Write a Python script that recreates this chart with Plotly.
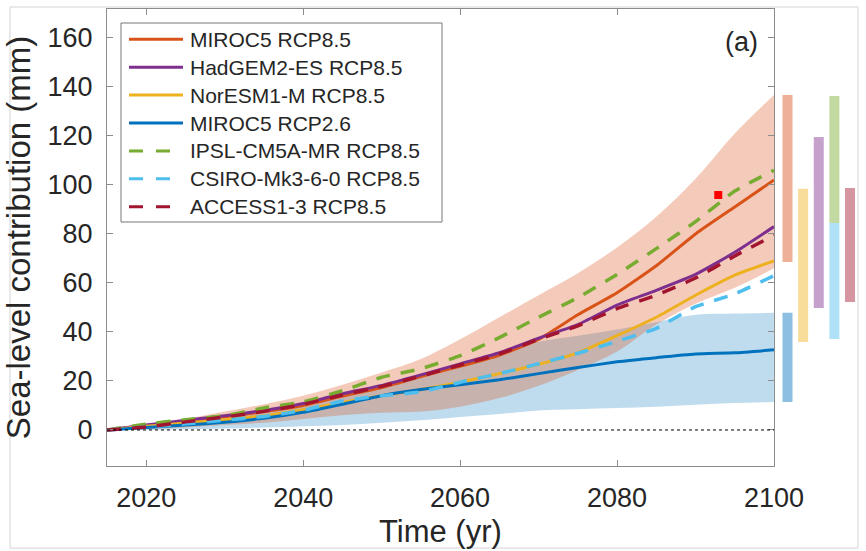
import plotly.graph_objects as go

# ---------------- data ----------------
years = [2015, 2020, 2025, 2030, 2035, 2040, 2045, 2050, 2055, 2060,
         2065, 2070, 2075, 2080, 2085, 2090, 2095, 2100]

miroc5_85 = [0, 1.8, 3.6, 5.4, 7.5, 10, 13.8, 17.3, 21.8, 26, 30.5, 37, 47, 56, 67, 80, 91, 102]
hadgem2_85 = [0, 2, 4, 5.8, 8, 10.8, 14.8, 18.2, 22.5, 27, 31.5, 37.5, 43, 51, 57, 63.5, 72.5, 83]
noresm1_85 = [0, 1.5, 2.8, 4.2, 5.8, 8.3, 11.2, 14, 16.5, 19.5, 23, 26.8, 31.5, 38.5, 46, 55, 63.2, 69]
miroc5_26 = [0, 1, 2, 3.2, 4.8, 7.2, 10.5, 14, 16.5, 18.5, 20.5, 23, 25.5, 27.8, 29.5, 31, 31.5, 32.7]
ipsl_85 = [0, 2.4, 4.2, 5.8, 9, 11.5, 16, 21.5, 25, 30.3, 37.7, 46, 54, 63.5, 74, 85, 97.5, 106]
csiro_85 = [0, 1.2, 2.5, 4, 5.5, 8, 11.8, 14, 15.5, 19.5, 23, 27, 31.3, 36.2, 41.5, 50.3, 55.5, 63]
access_85 = [0, 1.2, 3.3, 5.3, 7.6, 10.5, 14.3, 17.8, 22, 26.5, 31, 37, 42.5, 49.5, 55, 62, 71, 79.5]

# uncertainty envelopes
miroc5_85_low = [0, 0.5, 1, 2, 3, 4.5, 6, 7, 7.5, 9.5, 13, 18, 24.5, 32, 43, 51.5, 58, 66]
miroc5_85_high = [0, 2, 4.5, 7.5, 10.5, 14, 18.5, 23.5, 29, 37, 46, 55, 64, 74.5, 87, 102.5, 121, 136.7]
miroc5_26_low = [0, 0, 0.3, 0.6, 1, 1.5, 2, 3, 4, 5.3, 6.5, 8, 8.5, 9, 9.5, 10.3, 11, 11.4]
miroc5_26_high = [0, 1.5, 3, 5, 7.5, 10.5, 14.5, 18.5, 21.5, 25.5, 31, 36, 38.5, 41, 44, 47, 47.5, 47.8]

# 2100 ranges shown as bars at the right
range_labels = ["MIROC5 RCP8.5", "MIROC5 RCP2.6", "NorESM1-M RCP8.5", "HadGEM2-ES RCP8.5",
                "IPSL-CM5A-MR RCP8.5", "CSIRO-Mk3-6-0 RCP8.5", "ACCESS1-3 RCP8.5"]
range_slot = [1, 1, 2, 3, 4, 4, 5]
range_low = [68.6, 11.4, 35.9, 49.8, 84.5, 37.1, 52.2]
range_high = [136.7, 47.8, 98.4, 119.6, 136.3, 84.5, 98.8]

marker_year = [2092.9]
marker_value = [95.9]

x_ticks = [2020, 2040, 2060, 2080, 2100]
y_ticks = [0, 20, 40, 60, 80, 100, 120, 140, 160]

# ---------------- styling ----------------
C_OR = "#D95319"
C_PU = "#7E2F8E"
C_YE = "#EDB120"
C_BL = "#0072BD"
C_GR = "#77AC30"
C_CY = "#4DBEEE"
C_DR = "#A2142F"
FONT = "Liberation Sans, Arial, Helvetica, sans-serif"
TXT = "#262626"
AX = "#8c8c8c"
DASH = "14px,11px"

range_colors = ["rgba(217,83,25,0.45)", "rgba(0,114,189,0.45)", "rgba(237,177,32,0.45)",
                "rgba(126,47,142,0.45)", "rgba(119,172,48,0.45)", "rgba(77,190,238,0.45)",
                "rgba(162,20,47,0.45)"]

fig = go.Figure()

# envelopes: blue first, salmon over it
fig.add_trace(go.Scatter(x=years, y=miroc5_26_low, mode="lines", line=dict(width=0, shape="spline"),
                         showlegend=False, hoverinfo="skip"))
fig.add_trace(go.Scatter(x=years, y=miroc5_26_high, mode="lines", line=dict(width=0, shape="spline"),
                         fill="tonexty", fillcolor="rgba(0,114,189,0.25)",
                         showlegend=False, hoverinfo="skip"))
fig.add_trace(go.Scatter(x=years, y=miroc5_85_low, mode="lines", line=dict(width=0, shape="spline"),
                         showlegend=False, hoverinfo="skip"))
fig.add_trace(go.Scatter(x=years, y=miroc5_85_high, mode="lines", line=dict(width=0, shape="spline"),
                         fill="tonexty", fillcolor="rgba(217,83,25,0.30)",
                         showlegend=False, hoverinfo="skip"))

series = [
    ("MIROC5 RCP8.5", miroc5_85, C_OR, "solid"),
    ("HadGEM2-ES RCP8.5", hadgem2_85, C_PU, "solid"),
    ("NorESM1-M RCP8.5", noresm1_85, C_YE, "solid"),
    ("MIROC5 RCP2.6", miroc5_26, C_BL, "solid"),
    ("IPSL-CM5A-MR RCP8.5", ipsl_85, C_GR, DASH),
    ("CSIRO-Mk3-6-0 RCP8.5", csiro_85, C_CY, DASH),
    ("ACCESS1-3 RCP8.5", access_85, C_DR, DASH),
]
for name, vals, col, dash in series:
    fig.add_trace(go.Scatter(x=years, y=vals, mode="lines", name=name, showlegend=False,
                             line=dict(color=col, width=3 if dash == "solid" else 3.5,
                                       dash=dash, shape="spline", smoothing=0.5)))

fig.add_trace(go.Scatter(x=marker_year, y=marker_value, mode="markers", showlegend=False,
                         marker=dict(symbol="square", size=8, color="#ff0000")))

# range bars on a side axis
for lab, s, lo, hi, col in zip(range_labels, range_slot, range_low, range_high, range_colors):
    fig.add_trace(go.Bar(x=[s], y=[hi - lo], base=[lo], width=0.64,
                         marker=dict(color=col, line=dict(width=0)),
                         xaxis="x2", yaxis="y2", showlegend=False, name=lab))

fig.add_shape(type="line", xref="x", yref="y", x0=2015, x1=2100, y0=0, y1=0,
              line=dict(color="black", width=1, dash="dot"))
# outer light frame
fig.add_shape(type="rect", xref="paper", yref="paper", x0=-0.1293, x1=1.0013, y0=-0.1794, y1=1.0044,
              line=dict(color="#d4d4d4", width=1), layer="below")

# ---- legend drawn by hand (box, samples, labels) ----
PW, PH = 750.0, 457.0     # paper size in px
X0, Y0 = 107.0, 466.0     # paper origin (px, from top-left)


def px(xp):
    return (xp - X0) / PW


def py(yp):
    return (Y0 - yp) / PH


fig.add_shape(type="rect", xref="paper", yref="paper", x0=px(121), x1=px(442), y0=py(222), y1=py(23),
              line=dict(color="#777777", width=1), fillcolor="white", layer="above")
for i, (name, vals, col, dash) in enumerate(series):
    yc = 39.3 + i * 27.9
    fig.add_shape(type="line", xref="paper", yref="paper", x0=px(129), x1=px(183), y0=py(yc), y1=py(yc),
                  line=dict(color=col, width=3, dash="solid" if dash == "solid" else "14px,13px"),
                  layer="above")
    fig.add_annotation(x=px(188), y=py(yc), xref="paper", yref="paper", text=name, showarrow=False,
                       xanchor="left", yanchor="middle",
                       font=dict(size=21, color=TXT, family=FONT))

fig.add_annotation(x=px(741), y=py(42), xref="paper", yref="paper", text="(a)", showarrow=False,
                   xanchor="center", yanchor="middle",
                   font=dict(size=27, color=TXT, family=FONT))

# x-axis title
fig.add_annotation(x=px(440), y=py(531), xref="paper", yref="paper", text="Time (yr)", showarrow=False,
                   xanchor="center", yanchor="middle",
                   font=dict(size=31, color=TXT, family=FONT))

fig.update_layout(
    width=866, height=551, autosize=False,
    margin=dict(l=107, r=9, t=9, b=85, autoexpand=False),
    paper_bgcolor="white", plot_bgcolor="white",
    barmode="overlay",
    showlegend=False,
    font=dict(family=FONT, color=TXT),
    xaxis=dict(domain=[0, 0.8893], range=[2015, 2100], tickvals=x_ticks, automargin=False,
               ticks="inside", ticklen=6, tickcolor=AX, showline=True, linecolor=AX, linewidth=1,
               mirror="ticks", showgrid=False, zeroline=False, ticklabelstandoff=8,
               tickfont=dict(size=27, color=TXT)),
    yaxis=dict(range=[-14.7, 171.8], tickvals=y_ticks, automargin=False,
               ticks="inside", ticklen=6, tickcolor=AX, showline=True, linecolor=AX, linewidth=1,
               mirror="ticks", showgrid=False, zeroline=False, ticklabelstandoff=8,
               tickfont=dict(size=27, color=TXT),
               title=dict(text="Sea-level contribution (mm)", font=dict(size=33, color=TXT), standoff=6)),
    xaxis2=dict(domain=[0.892, 1], range=[0.264, 5.447], visible=False, anchor="y2", automargin=False),
    yaxis2=dict(anchor="x2", matches="y", visible=False, automargin=False),
)

post = ("document.body.style.margin='0';document.body.style.overflow='hidden';"
        "var gd=document.getElementById('{plot_id}');"
        "Plotly.relayout(gd,{autosize:false,width:866,height:551});")

fig.write_html("out.html", config={"responsive": False, "displayModeBar": False}, post_script=post)
